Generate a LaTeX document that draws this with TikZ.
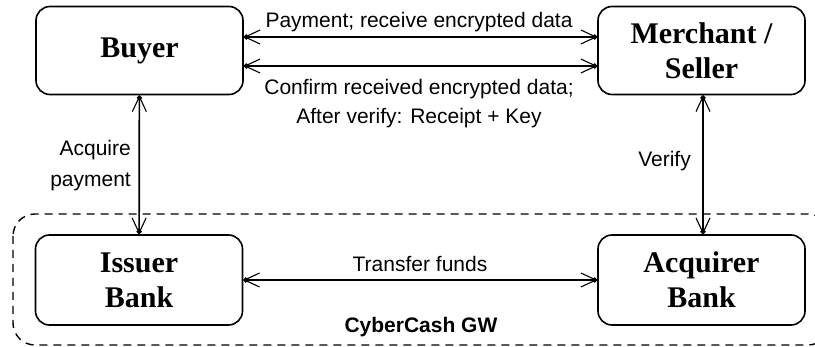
\documentclass[tikz,border=0pt]{standalone}
\usepackage{fontspec}
\setmainfont{Liberation Serif}
\setsansfont{Liberation Sans}
\usetikzlibrary{arrows.meta}

\tikzset{
  party/.style={draw, line width=1.6pt, rounded corners=14pt,
    minimum width=207pt, minimum height=88pt, align=center, inner sep=0pt,
    font=\fontsize{30}{35}\selectfont\bfseries},
  flowbarb/.tip={Straight Barb[length=15pt,width=14pt,line width=1.1pt,sep=-5pt]},
  flowdot/.tip={Circle[length=5pt]},
  flow/.style={line width=1.7pt, {flowdot[] flowbarb[]}-{flowbarb[] flowdot[]}},
  lbl/.style={inner sep=0pt, font=\sffamily\fontsize{21}{29}\selectfont},
  gateway/.style={draw, line width=1.4pt, dash pattern=on 8pt off 6pt, rounded corners=22pt}
}

\begin{document}
\begin{tikzpicture}[x=1pt, y=-1pt]
  \useasboundingbox (0,0) rectangle (815,347);

  % gateway region around the two banks
  \draw[gateway] (13,214) rectangle (830,345);

  % parties
  \node[party] (buyer)    at (139.5,50.5) {Buyer};
  \node[party] (merchant) at (701.5,50.5) {Merchant /\\Seller};
  \node[party, minimum height=90pt] (issuer)   at (139,280)   {Issuer\\Bank};
  \node[party, minimum height=90pt] (acquirer) at (701.5,280) {Acquirer\\Bank};

  % message flows
  \draw[flow] ([yshift=13.5pt]buyer.east) -- ([yshift=13.5pt]merchant.west);
  \draw[flow] ([yshift=-15.5pt]buyer.east) -- ([yshift=-15.5pt]merchant.west);
  \draw[flow] (buyer) -- (issuer);
  \draw[flow] ([xshift=1.5pt]merchant.south) -- ([xshift=1.5pt]acquirer.north);
  \draw[flow] (issuer) -- (acquirer);

  % flow labels
  \node[lbl, anchor=base] (lpay) at (419,28) {Payment; receive encrypted data};
  \node[lbl, anchor=north, align=center] (lconf) at (419,79)
    {Confirm received encrypted data;\\After verify: Receipt + Key};
  \node[lbl, anchor=north east, align=right, font=\sffamily\fontsize{21}{31}\selectfont]
    (lacq) at (131,140) {Acquire\\payment};
  \node[lbl, anchor=base east] (lver) at (691,167) {Verify};
  \node[lbl, anchor=base] (ltr) at (420,272) {Transfer funds};
  \node[lbl, anchor=base, font=\sffamily\bfseries\fontsize{21}{25}\selectfont]
    (lgw) at (421,333) {CyberCash GW};
\end{tikzpicture}
\end{document}
